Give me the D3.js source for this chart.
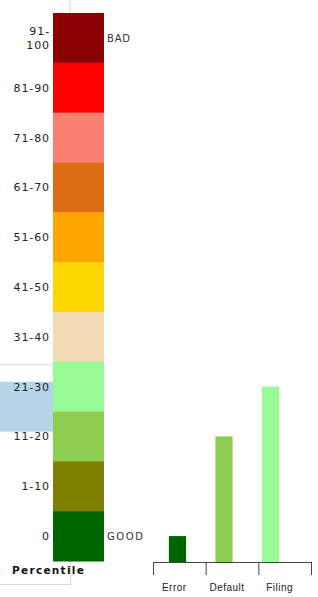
<!DOCTYPE html>
<html>
<head>
<meta charset="utf-8">
<script src="https://cdn.jsdelivr.net/npm/d3@7"></script>
<style>
  body { margin: 0; background: #fff; }
  svg { display: block; }
</style>
</head>
<body>
<script>
var bands = ['91-100', '81-90', '71-80', '61-70', '51-60', '41-50', '31-40', '21-30', '11-20', '1-10', '0'];
var bandColors = ['#8b0000', '#ff0000', '#fa8072', '#dc6d14', '#ffa500', '#ffd700', '#f3dcb4', '#98fb98', '#8fcd52', '#808000', '#006400'];
var current = '21-30';

var categories = ['Error', 'Default', 'Filing'];
var values = ['0', '11-20', '21-30'];

var W = 318, H = 597;

var svg = d3.select('body').append('svg')
  .attr('width', W)
  .attr('height', H)
  .style('font-family', '"DejaVu Sans", Verdana, sans-serif');

var y = d3.scaleBand().domain(bands).range([13, 561]);
var color = d3.scaleOrdinal().domain(bands).range(bandColors);

// left panel decoration
svg.append('rect')
  .attr('x', 0).attr('y', y(current) + 20)
  .attr('width', 53).attr('height', y.bandwidth())
  .style('fill', '#b6d3e8');
svg.append('line')
  .attr('x1', 0).attr('x2', 53)
  .attr('y1', y(current) + 3).attr('y2', y(current) + 3)
  .style('stroke', '#d8d8d8');
svg.append('path')
  .attr('d', 'M70,0V13M0,584.5H70.5V561')
  .style('fill', 'none')
  .style('stroke', '#d8d8d8');

// legend
svg.selectAll('.band')
  .data(bands)
  .enter().append('rect')
    .attr('class', 'band')
    .attr('x', 53)
    .attr('y', function (d) { return y(d); })
    .attr('width', 51)
    .attr('height', y.bandwidth() + 0.5)
    .style('fill', function (d) { return color(d); });

var lab = svg.selectAll('.lab')
  .data(bands)
  .enter().append('text')
    .attr('class', 'lab')
    .attr('x', 50)
    .attr('y', function (d) { return y(d) + y.bandwidth() / 2 + 4; })
    .attr('text-anchor', 'end')
    .style('font-size', '11px')
    .style('letter-spacing', '0.9px')
    .style('fill', '#222');
lab.each(function (d) {
  var t = d3.select(this);
  if (d === '91-100') {
    t.append('tspan').attr('x', 50).attr('dy', -7).text('91-');
    t.append('tspan').attr('x', 50).attr('dy', 14).text('100');
  } else {
    t.text(d);
  }
});

svg.append('text')
  .attr('x', 107).attr('y', y(bands[0]) + y.bandwidth() / 2 + 4)
  .style('font-size', '10px').style('letter-spacing', '0.8px').style('fill', '#333')
  .text('BAD');
svg.append('text')
  .attr('x', 107).attr('y', y(bands[bands.length - 1]) + y.bandwidth() / 2 + 4)
  .style('font-size', '10px').style('letter-spacing', '1.6px').style('fill', '#333')
  .text('GOOD');
svg.append('text')
  .attr('x', 12).attr('y', 574)
  .style('font-size', '10.5px').style('font-weight', 'bold')
  .style('letter-spacing', '1.3px').style('fill', '#111')
  .text('Percentile');

// bar chart
var xAxis = d3.scaleBand().domain(categories).range([153, 311]);
var x = d3.scaleBand().domain(categories).range([154, 294]).paddingInner(0.63).paddingOuter(0.32);
var base = 562;

svg.selectAll('.bar')
  .data(categories)
  .enter().append('rect')
    .attr('class', 'bar')
    .attr('x', function (d) { return x(d); })
    .attr('width', x.bandwidth())
    .attr('y', function (d, i) { return y(values[i]) + y.bandwidth() / 2; })
    .attr('height', function (d, i) { return base - (y(values[i]) + y.bandwidth() / 2); })
    .style('fill', function (d, i) { return color(values[i]); });

var edges = categories.map(function (d) { return xAxis(d); }).concat([xAxis.range()[1]]);
svg.append('line')
  .attr('x1', edges[0]).attr('x2', edges[edges.length - 1])
  .attr('y1', base + 0.5).attr('y2', base + 0.5)
  .style('stroke', '#444');
svg.selectAll('.tick')
  .data(edges)
  .enter().append('line')
    .attr('class', 'tick')
    .attr('x1', function (d) { return d + 0.5; })
    .attr('x2', function (d) { return d + 0.5; })
    .attr('y1', base).attr('y2', base + 13)
    .style('stroke', '#444');
svg.selectAll('.xlab')
  .data(categories)
  .enter().append('text')
    .attr('class', 'xlab')
    .attr('x', function (d) { return xAxis(d) + xAxis.bandwidth() / 2 - 5; })
    .attr('y', 591)
    .attr('text-anchor', 'middle')
    .style('font-family', '"Liberation Sans", Arial, sans-serif')
    .style('font-size', '10px')
    .style('letter-spacing', '0.5px')
    .style('fill', '#222')
    .text(function (d) { return d; });
</script>
</body>
</html>
